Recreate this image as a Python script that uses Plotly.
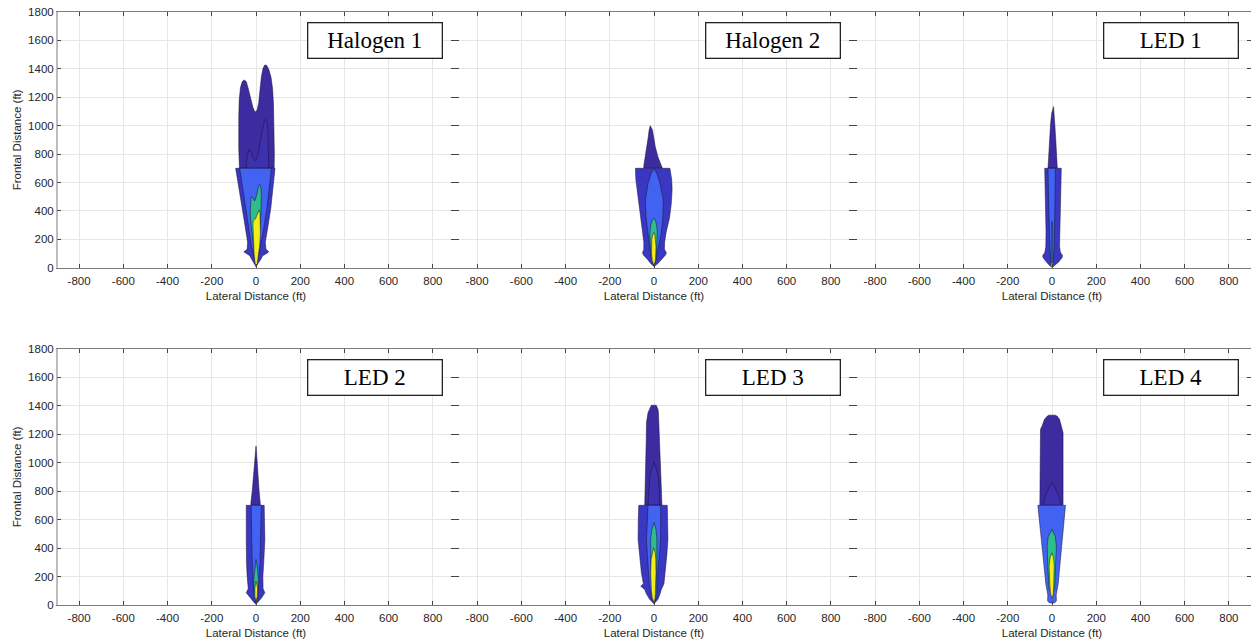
import plotly.graph_objects as go

# ---------------- text / ticks ----------------
PANEL_TITLES = ["Halogen 1", "Halogen 2", "LED 1", "LED 2", "LED 3", "LED 4"]
X_TICKS = [-800, -600, -400, -200, 0, 200, 400, 600, 800]
Y_TICKS = [0, 200, 400, 600, 800, 1000, 1200, 1400, 1600, 1800]
X_TITLE = "Lateral Distance (ft)"
Y_TITLE = "Frontal Distance (ft)"

# ---------------- contour boundaries (ft) ----------------
# Halogen 1 (far field, >700 ft): explicit outlines (lateral, frontal)
H1_FAR1_X = [-75, -78, -78, -76, -70, -62, -54, -44, -34, -24, -14, -6, 0, 6, 12, 18, 24, 32, 40, 48, 58, 68, 75, 79, 82, 83, 82]
H1_FAR1_Y = [700, 850, 1050, 1180, 1270, 1310, 1322, 1310, 1255, 1190, 1130, 1100, 1098, 1115, 1160, 1250, 1340, 1405, 1427, 1425, 1395, 1340, 1260, 1150, 950, 800, 700]
H1_FAR2_X = [-45, -42, -36, -30, -22, -14, -6, 0, 8, 16, 24, 32, 38, 43, 48, 53, 56, 58, 58]
H1_FAR2_Y = [700, 760, 810, 832, 815, 775, 755, 758, 790, 860, 940, 1010, 1040, 1045, 1030, 980, 880, 780, 700]
# Halogen 1 (near field, <700 ft): profiles (frontal, left edge, right edge)
H1_NEAR1_Y = [8, 30, 60, 85, 100, 112, 130, 180, 300, 420, 550, 650, 700]
H1_NEAR1_L = [0, -10, -20, -28, -45, -55, -40, -38, -50, -62, -76, -87, -92]
H1_NEAR1_R = [0, 10, 22, 30, 48, 58, 45, 42, 55, 67, 76, 83, 86]
H1_NEAR2_Y = [25, 80, 150, 250, 400, 550, 700]
H1_NEAR2_L = [0, -10, -20, -30, -44, -58, -74]
H1_NEAR2_R = [0, 10, 20, 32, 48, 58, 70]
H1_GREEN_X = [-5, -12, -18, -24, -26, -25, -22, -16, -10, -6, 0, 6, 12, 17, 21, 24, 24, 22, 19, 15, 10, 5]
H1_GREEN_Y = [60, 150, 250, 330, 400, 460, 500, 495, 475, 470, 495, 540, 575, 585, 570, 520, 450, 380, 300, 200, 110, 50]
H1_YELLOW_X = [0, -5, -9, -12, -14, -14, -12, -7, -2, 4, 10, 15, 18, 20, 20, 17, 12, 6]
H1_YELLOW_Y = [8, 40, 100, 180, 260, 310, 330, 335, 345, 370, 395, 407, 385, 320, 240, 160, 80, 30]

# Halogen 2
H2_FAR1_Y = [700, 720, 780, 850, 920, 970, 1000]
H2_FAR1_L = [-46, -46, -40, -32, -26, -22, -18]
H2_FAR1_R = [38, 33, 18, 6, -1, -7, -17]
H2_NEAR1_Y = [8, 30, 60, 90, 105, 130, 180, 250, 350, 450, 550, 620, 700]
H2_NEAR1_L = [0, -15, -30, -48, -52, -46, -46, -52, -60, -68, -78, -82, -84]
H2_NEAR1_R = [0, 18, 35, 52, 56, 47, 48, 55, 70, 78, 82, 80, 72]
H2_NEAR2_Y = [15, 80, 150, 244, 350, 478, 595, 660, 700]
H2_NEAR2_L = [0, -12, -20, -27, -36, -39, -27, -14, 0]
H2_NEAR2_R = [0, 12, 22, 33, 40, 42, 27, 14, 0]
H2_GREEN_Y = [15, 60, 150, 244, 300, 330, 349]
H2_GREEN_L = [0, -12, -16, -19, -15, -9, -1]
H2_GREEN_R = [0, 10, 12, 15, 12, 7, -1]
H2_YELLOW_Y = [14, 50, 100, 150, 200, 230, 248]
H2_YELLOW_L = [0, -8, -11, -12, -10, -6, -1]
H2_YELLOW_R = [0, 6, 8, 9, 7, 4, -1]

# LED 1
L1_FAR1_Y = [700, 800, 900, 1000, 1050, 1090, 1134]
L1_FAR1_L = [-18, -15, -11, -7, -4, -1, 7]
L1_FAR1_R = [24, 21, 17, 13, 11, 10, 7]
L1_NEAR1_Y = [5, 15, 40, 70, 85, 110, 150, 250, 400, 550, 700]
L1_NEAR1_L = [0, -10, -25, -40, -42, -32, -28, -27, -29, -31, -33]
L1_NEAR1_R = [0, 10, 30, 45, 48, 38, 34, 33, 37, 40, 42]
L1_NEAR2_Y = [20, 60, 150, 300, 500, 700]
L1_NEAR2_L = [0, -5, -10, -14, -16, -18]
L1_NEAR2_R = [0, 5, 10, 12, 14, 15]
L1_GREEN_Y = [5, 12, 25, 35, 100, 250, 326]
L1_GREEN_L = [0, -8, -7, -3, -3, -2.5, 0]
L1_GREEN_R = [0, 8, 7, 3, 3, 2.5, 0]

# LED 2
L2_FAR1_Y = [700, 718, 800, 900, 1023, 1080, 1117]
L2_FAR1_L = [-23, -23, -17, -11, -4, -2, 0]
L2_FAR1_R = [19, 19, 14, 9, 4, 2, 0]
L2_NEAR1_Y = [5, 20, 50, 86, 100, 115, 200, 300, 460, 600, 700]
L2_NEAR1_L = [0, -10, -25, -44, -40, -35, -40, -43, -44, -44, -44]
L2_NEAR1_R = [0, 10, 25, 40, 36, 32, 31, 35, 40, 38, 37]
L2_NEAR2_Y = [15, 60, 150, 300, 500, 700]
L2_NEAR2_L = [0, -6, -12, -17, -20, -22]
L2_NEAR2_R = [0, 6, 12, 18, 22, 24]
L2_GREEN_Y = [20, 60, 179, 260, 320]
L2_GREEN_L = [0, -8, -10, -6, 0]
L2_GREEN_R = [0, 8, 11, 6, 0]
L2_YELLOW_Y = [25, 60, 120, 168]
L2_YELLOW_L = [0, -5, -5, 0]
L2_YELLOW_R = [0, 6, 7, 0]

# LED 3
L3_FAR1_Y = [700, 800, 929, 1047, 1164, 1281, 1351, 1375, 1403]
L3_FAR1_L = [-42, -40, -38, -37, -35, -34, -27, -20, -12]
L3_FAR1_R = [36, 34, 30, 28, 25, 22, 20, 18, 10]
L3_FAR2_Y = [700, 800, 883, 950, 1004]
L3_FAR2_L = [-27, -24, -20, -12, 0]
L3_FAR2_R = [25, 24, 21, 12, 0]
L3_NEAR1_Y = [8, 40, 80, 109, 132, 150, 226, 350, 461, 600, 700]
L3_NEAR1_L = [0, -20, -35, -42, -60, -48, -57, -66, -72, -71, -69]
L3_NEAR1_R = [0, 18, 28, 33, 40, 45, 51, 58, 63, 62, 60]
L3_NEAR2_Y = [15, 50, 150, 250, 350, 461, 600, 700]
L3_NEAR2_L = [0, -12, -22, -27, -30, -34, -30, -27]
L3_NEAR2_R = [0, 12, 16, 18, 24, 30, 30, 30]
L3_GREEN_Y = [15, 80, 226, 350, 461, 530, 578]
L3_GREEN_L = [0, -10, -14, -15, -15, -10, 0]
L3_GREEN_R = [0, 10, 12, 13, 13, 9, 0]
L3_YELLOW_Y = [15, 50, 100, 226, 320, 370, 402]
L3_YELLOW_L = [0, -8, -12, -15, -13, -8, -1.5]
L3_YELLOW_R = [0, 5, 6, 9, 8, 5, -1.5]

# LED 4
L4_FAR1_Y = [700, 900, 1100, 1210, 1234, 1260, 1304, 1325, 1333]
L4_FAR1_L = [-55, -55, -54, -53, -52, -44, -34, -22, -15]
L4_FAR1_R = [50, 50, 50, 50, 46, 40, 34, 24, 15]
L4_FAR2_Y = [700, 750, 789, 830, 859]
L4_FAR2_L = [-40, -34, -25, -12, 0]
L4_FAR2_R = [40, 34, 25, 12, 0]
L4_NEAR1_Y = [12, 18, 30, 50, 70, 150, 300, 450, 600, 700]
L4_NEAR1_L = [0, -14, -20, -21, -19, -28, -38, -48, -57, -64]
L4_NEAR1_R = [0, 14, 20, 21, 19, 28, 38, 48, 55, 61]
L4_GREEN_Y = [70, 120, 273, 414, 480, 531]
L4_GREEN_L = [0, -14, -19, -22, -17, 0]
L4_GREEN_R = [0, 12, 16, 20, 15, 0]
L4_YELLOW_Y = [45, 80, 150, 273, 330, 367]
L4_YELLOW_L = [0, -7, -10, -13, -9, 0]
L4_YELLOW_R = [0, 6, 8, 10, 7, 0]

# ---------------- styles ----------------
C_FAR1 = "#3d2ca0"
C_FAR2 = "#3e31ad"
C_NEAR1 = "#3a38c2"
C_NEAR2 = "#4262f2"
C_GREEN = "#2ebd89"
C_YELLOW = "#f2ee19"
EDGE = "rgba(25,20,60,0.75)"


def profile(y, left, right):
    xs = list(left) + list(reversed(right))
    ys = list(y) + list(reversed(y))
    return xs, ys


def outline(x, y):
    return list(x), list(y)


PANELS = [
    [  # Halogen 1
        (outline(H1_FAR1_X, H1_FAR1_Y), C_FAR1),
        (outline(H1_FAR2_X, H1_FAR2_Y), C_FAR2),
        (profile(H1_NEAR1_Y, H1_NEAR1_L, H1_NEAR1_R), C_NEAR1),
        (profile(H1_NEAR2_Y, H1_NEAR2_L, H1_NEAR2_R), C_NEAR2),
        (outline(H1_GREEN_X, H1_GREEN_Y), C_GREEN),
        (outline(H1_YELLOW_X, H1_YELLOW_Y), C_YELLOW),
    ],
    [  # Halogen 2
        (profile(H2_FAR1_Y, H2_FAR1_L, H2_FAR1_R), C_FAR1),
        (profile(H2_NEAR1_Y, H2_NEAR1_L, H2_NEAR1_R), C_NEAR1),
        (profile(H2_NEAR2_Y, H2_NEAR2_L, H2_NEAR2_R), C_NEAR2),
        (profile(H2_GREEN_Y, H2_GREEN_L, H2_GREEN_R), C_GREEN),
        (profile(H2_YELLOW_Y, H2_YELLOW_L, H2_YELLOW_R), C_YELLOW),
    ],
    [  # LED 1
        (profile(L1_FAR1_Y, L1_FAR1_L, L1_FAR1_R), C_FAR1),
        (profile(L1_NEAR1_Y, L1_NEAR1_L, L1_NEAR1_R), C_NEAR1),
        (profile(L1_NEAR2_Y, L1_NEAR2_L, L1_NEAR2_R), C_NEAR2),
        (profile(L1_GREEN_Y, L1_GREEN_L, L1_GREEN_R), C_GREEN),
    ],
    [  # LED 2
        (profile(L2_FAR1_Y, L2_FAR1_L, L2_FAR1_R), C_FAR1),
        (profile(L2_NEAR1_Y, L2_NEAR1_L, L2_NEAR1_R), C_NEAR1),
        (profile(L2_NEAR2_Y, L2_NEAR2_L, L2_NEAR2_R), C_NEAR2),
        (profile(L2_GREEN_Y, L2_GREEN_L, L2_GREEN_R), C_GREEN),
        (profile(L2_YELLOW_Y, L2_YELLOW_L, L2_YELLOW_R), C_YELLOW),
    ],
    [  # LED 3
        (profile(L3_FAR1_Y, L3_FAR1_L, L3_FAR1_R), C_FAR1),
        (profile(L3_FAR2_Y, L3_FAR2_L, L3_FAR2_R), C_FAR2),
        (profile(L3_NEAR1_Y, L3_NEAR1_L, L3_NEAR1_R), C_NEAR1),
        (profile(L3_NEAR2_Y, L3_NEAR2_L, L3_NEAR2_R), C_NEAR2),
        (profile(L3_GREEN_Y, L3_GREEN_L, L3_GREEN_R), C_GREEN),
        (profile(L3_YELLOW_Y, L3_YELLOW_L, L3_YELLOW_R), C_YELLOW),
    ],
    [  # LED 4
        (profile(L4_FAR1_Y, L4_FAR1_L, L4_FAR1_R), C_FAR1),
        (profile(L4_FAR2_Y, L4_FAR2_L, L4_FAR2_R), C_FAR2),
        (profile(L4_NEAR1_Y, L4_NEAR1_L, L4_NEAR1_R), C_NEAR2),
        (profile(L4_GREEN_Y, L4_GREEN_L, L4_GREEN_R), C_GREEN),
        (profile(L4_YELLOW_Y, L4_YELLOW_L, L4_YELLOW_R), C_YELLOW),
    ],
]

fig = go.Figure()

COL_DOMAINS = [[0.0, 1 / 3], [1 / 3, 2 / 3], [2 / 3, 1.0]]
ROW_DOMAINS = [[0.5687, 1.0], [0.0, 0.4322]]
TICK_FONT = dict(family="Liberation Sans, Arial, sans-serif", size=11.5, color="#262626")

for i, levels in enumerate(PANELS):
    n = i + 1
    xa = "x" if n == 1 else f"x{n}"
    ya = "y" if n == 1 else f"y{n}"
    for (xs, ys), col in levels:
        fig.add_trace(go.Scatter(
            x=xs + [xs[0]], y=ys + [ys[0]], mode="lines", fill="toself",
            fillcolor=col, line=dict(color=EDGE, width=0.7),
            xaxis=xa, yaxis=ya, showlegend=False, hoverinfo="skip"))

layout = dict(
    width=1251, height=641,
    margin=dict(l=57, r=0, t=12, b=36, autoexpand=False),
    paper_bgcolor="white", plot_bgcolor="white",
    annotations=[], shapes=[],
)

for i in range(6):
    n = i + 1
    r, c = divmod(i, 3)
    xkey = "xaxis" if n == 1 else f"xaxis{n}"
    ykey = "yaxis" if n == 1 else f"yaxis{n}"
    ya = "y" if n == 1 else f"y{n}"
    xa = "x" if n == 1 else f"x{n}"
    layout[xkey] = dict(
        domain=COL_DOMAINS[c], anchor=ya, range=[-900, 900],
        tickvals=X_TICKS, ticktext=[str(v) for v in X_TICKS],
        showgrid=True, gridcolor="#e6e6e6", gridwidth=1, zeroline=False,
        showline=True, linecolor="#7a7a7a", linewidth=1, mirror="ticks",
        ticks="inside", ticklen=4, tickcolor="#444",
        tickfont=TICK_FONT, automargin=False, ticklabelstandoff=2,
        title=dict(text=X_TITLE, font=TICK_FONT, standoff=6),
        fixedrange=True,
    )
    layout[ykey] = dict(
        domain=ROW_DOMAINS[r], anchor=xa, range=[0, 1800],
        tickvals=Y_TICKS, ticktext=[str(v) for v in Y_TICKS],
        showticklabels=(c == 0),
        showgrid=True, gridcolor="#e6e6e6", gridwidth=1, zeroline=False,
        showline=True, linecolor="rgba(0,0,0,0)", mirror="ticks",
        ticks="inside", ticklen=4, tickcolor="#444",
        tickfont=TICK_FONT, automargin=False,
        title=dict(text=Y_TITLE if c == 0 else "", font=TICK_FONT, standoff=4),
        fixedrange=True,
    )
    if c == 0:
        layout["shapes"].append(dict(
            type="line", xref=f"{xa} domain", yref=f"{ya} domain",
            x0=0, x1=0, y0=0, y1=1, line=dict(color="#7a7a7a", width=1)))
    layout["annotations"].append(dict(
        text=PANEL_TITLES[i], xref=f"{xa} domain", yref=f"{ya} domain",
        x=1, y=1, xanchor="right", yanchor="top", xshift=-12, yshift=-10,
        showarrow=False, width=133, height=34, borderpad=0,
        bordercolor="#222", borderwidth=1.3, bgcolor="white",
        font=dict(family="Liberation Serif, Times New Roman, serif", size=23, color="black"),
    ))

fig.update_layout(**layout)
fig.write_html(
    "out.html",
    config={"displayModeBar": False},
    post_script="document.body.style.margin='0px';document.body.style.overflow='hidden';",
)
